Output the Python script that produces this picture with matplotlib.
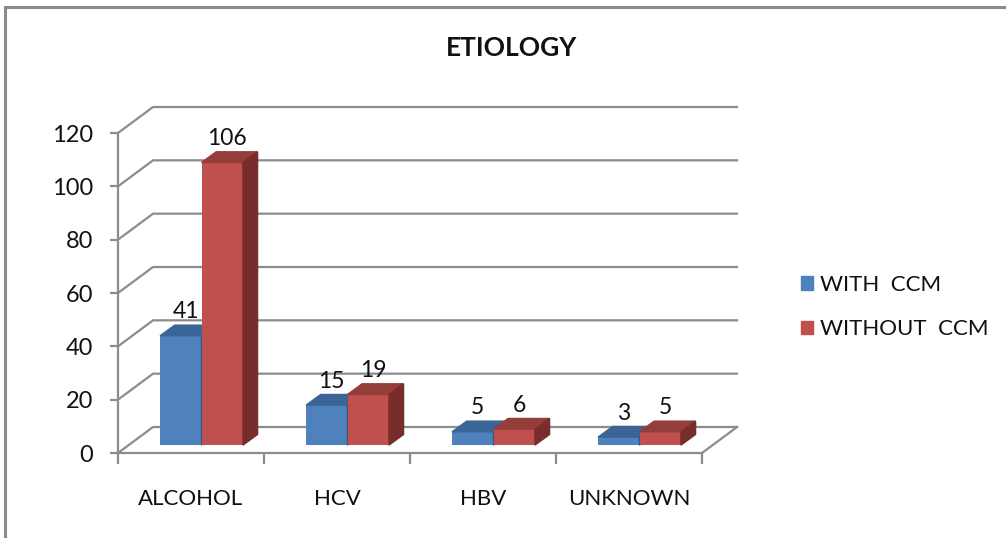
import matplotlib
matplotlib.use("Agg")
import matplotlib.pyplot as plt
from matplotlib.patches import Polygon, Rectangle, Patch

plt.rcParams['font.family'] = ['Lato', 'DejaVu Sans']

### data
categories = ['ALCOHOL', 'HCV', 'HBV', 'UNKNOWN']
with_ccm = [41, 15, 5, 3]
without_ccm = [106, 19, 6, 5]
series_names = ['WITH  CCM', 'WITHOUT  CCM']
yticks = [0, 20, 40, 60, 80, 100, 120]

### styling / 3d fake depth (data units)
blue = ['#4F81BD', '#3C6597', '#34577F']   # front, top, side
red = ['#C0504D', '#953D3B', '#772D2C']
grid_col = '#8C8C8C'
DX, DY = 0.24, 9.75        # full depth of the floor / walls
FX, FY = 0.072, 2.95       # where the bar front face sits
BX, BY = 0.10, 4.0         # depth of each bar
w = 0.284                  # bar width

fig = plt.figure(figsize=(10.06, 5.38), dpi=100)
ax = fig.add_axes([118/1006, 85/538, 584/1006, 320/538])
ax.set_xlim(-0.5, 3.5)
ax.set_ylim(0, 120)
ax.patch.set_visible(False)

# walls and grid
for g in yticks:
    ax.plot([-0.5, -0.5 + DX, 3.5 + DX], [g, g + DY, g + DY],
            color=grid_col, lw=1.6, clip_on=False, zorder=1)
ax.plot([3.5, 3.5 + DX], [0, DY], color=grid_col, lw=1.6, clip_on=False, zorder=1)


def draw_bar(xl, v, cols):
    ax.bar(xl + FX, v, width=w, bottom=FY, align='edge', color=cols[0],
           clip_on=False, zorder=3)
    top = [(xl + FX, v + FY), (xl + FX + w, v + FY),
           (xl + FX + w + BX, v + FY + BY), (xl + FX + BX, v + FY + BY)]
    side = [(xl + FX + w, FY), (xl + FX + w + BX, FY + BY),
            (xl + FX + w + BX, v + FY + BY), (xl + FX + w, v + FY)]
    ax.add_patch(Polygon(top, closed=True, color=cols[1], clip_on=False, zorder=3))
    ax.add_patch(Polygon(side, closed=True, color=cols[2], clip_on=False, zorder=3))
    ax.annotate(str(v), (xl + FX + w / 2 + BX / 3, v + FY + BY), xytext=(0, 5),
                textcoords='offset points', ha='center', va='baseline',
                fontsize=16.5, color='#111111', annotation_clip=False, zorder=5)


for i in range(len(categories)):
    draw_bar(i - w, with_ccm[i], blue)
    draw_bar(i, without_ccm[i], red)

# axes
for s in ['top', 'right']:
    ax.spines[s].set_visible(False)
for s in ['left', 'bottom']:
    ax.spines[s].set_color(grid_col)
    ax.spines[s].set_linewidth(1.6)
ax.set_yticks(yticks)
ax.tick_params(axis='y', length=6, width=1.6, color=grid_col, labelsize=17,
               pad=12, labelcolor='#111111')
ax.set_xticks([-0.5, 0.5, 1.5, 2.5, 3.5])
ax.set_xticklabels([])
ax.set_xticks(range(len(categories)), minor=True)
ax.set_xticklabels(categories, minor=True)
ax.tick_params(axis='x', which='major', length=8, width=1.6, color=grid_col)
ax.tick_params(axis='x', which='minor', length=0, pad=26, labelsize=16,
               labelcolor='#111111')

fig.text(512/1006, 1 - 48/538, 'ETIOLOGY', ha='center', va='center',
         fontsize=19, fontweight='bold', color='#111111')

handles = [Patch(color=blue[0]), Patch(color=red[0])]
fig.legend(handles, series_names, loc='center left',
           bbox_to_anchor=(781/1006, 1 - 307/538), frameon=False,
           fontsize=16, handlelength=0.55, handleheight=0.55,
           handletextpad=0.3, labelspacing=1.1, labelcolor='#111111')

# chart border
fig.patches.append(Rectangle((5/1006, -0.1), 1.2, 1.1 - 7/538,
                             transform=fig.transFigure, fill=False,
                             edgecolor='#8A8A8A', lw=2.2))

fig.savefig('out.png', dpi=100)
